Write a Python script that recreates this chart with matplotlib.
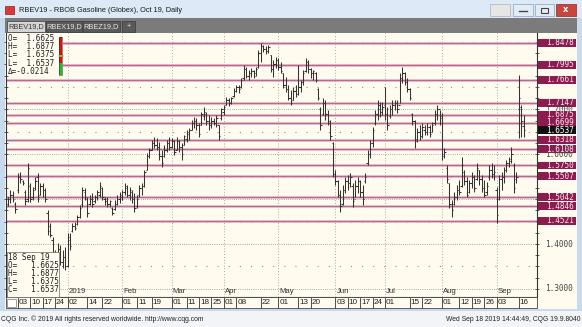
import matplotlib
matplotlib.use("Agg")
import matplotlib.pyplot as plt
import matplotlib.transforms as mtrans
from matplotlib.patches import Rectangle
import numpy as np
import pandas as pd

# trading days on the chart (CQG session calendar)
days = pd.bdate_range("2018-11-27", "2019-09-18")
days = days.drop(pd.to_datetime(["2018-12-25", "2019-01-01", "2019-09-02"]))

# daily OHLC
opens = [1.49, 1.50, 1.51, 1.49, 1.52, 1.55, 1.54, 1.515, 1.50, 1.53,
         1.505, 1.525, 1.55, 1.51, 1.53, 1.52, 1.47, 1.44, 1.41, 1.37,
         1.37, 1.39, 1.36, 1.37, 1.35, 1.41, 1.43, 1.44, 1.445, 1.46,
         1.49, 1.515, 1.50, 1.49, 1.50, 1.495, 1.505, 1.51, 1.525, 1.50,
         1.495, 1.49, 1.48, 1.478, 1.49, 1.50, 1.505, 1.515, 1.525, 1.51,
         1.515, 1.50, 1.485, 1.51, 1.525, 1.53, 1.565, 1.595, 1.61, 1.625,
         1.62, 1.615, 1.595, 1.597, 1.61, 1.625, 1.615, 1.63, 1.61, 1.63,
         1.615, 1.62, 1.635, 1.645, 1.655, 1.67, 1.675, 1.665, 1.665, 1.685,
         1.69, 1.675, 1.665, 1.675, 1.67, 1.665, 1.68, 1.695, 1.71, 1.72,
         1.715, 1.73, 1.74, 1.75, 1.75, 1.77, 1.79, 1.775, 1.78, 1.785,
         1.78, 1.795, 1.825, 1.84, 1.835, 1.83, 1.82, 1.79, 1.80, 1.81,
         1.795, 1.78, 1.755, 1.745, 1.725, 1.72, 1.74, 1.735, 1.75, 1.76,
         1.785, 1.805, 1.79, 1.78, 1.78, 1.745, 1.70, 1.69, 1.715, 1.69,
         1.67, 1.625, 1.555, 1.54, 1.51, 1.49, 1.52, 1.54, 1.535, 1.53,
         1.50, 1.53, 1.54, 1.515, 1.54, 1.58, 1.60, 1.625, 1.67, 1.69,
         1.71, 1.695, 1.71, 1.69, 1.685, 1.70, 1.71, 1.715, 1.71, 1.77,
         1.78, 1.76, 1.745, 1.69, 1.675, 1.635, 1.65, 1.64, 1.655, 1.65,
         1.66, 1.65, 1.67, 1.69, 1.70, 1.685, 1.60, 1.57, 1.535, 1.49,
         1.49, 1.505, 1.52, 1.53, 1.56, 1.54, 1.515, 1.535, 1.55, 1.545,
         1.565, 1.545, 1.525, 1.515, 1.55, 1.565, 1.555, 1.52, 1.50, 1.545,
         1.55, 1.565, 1.58, 1.59, 1.575, 1.545, 1.70, 1.705, 1.6625]
highs = [1.505, 1.520, 1.518, 1.494, 1.558, 1.560, 1.543, 1.520, 1.580, 1.536,
         1.527, 1.549, 1.558, 1.536, 1.536, 1.525, 1.476, 1.447, 1.416, 1.387,
         1.402, 1.398, 1.387, 1.393, 1.424, 1.424, 1.447, 1.449, 1.465, 1.487,
         1.527, 1.525, 1.505, 1.509, 1.514, 1.509, 1.520, 1.538, 1.527, 1.505,
         1.505, 1.498, 1.482, 1.498, 1.509, 1.516, 1.520, 1.536, 1.531, 1.527,
         1.520, 1.514, 1.509, 1.531, 1.536, 1.565, 1.603, 1.614, 1.632, 1.638,
         1.636, 1.627, 1.609, 1.620, 1.632, 1.638, 1.636, 1.632, 1.638, 1.632,
         1.625, 1.643, 1.654, 1.658, 1.676, 1.683, 1.681, 1.669, 1.694, 1.705,
         1.694, 1.687, 1.683, 1.681, 1.687, 1.665, 1.703, 1.710, 1.727, 1.725,
         1.727, 1.747, 1.754, 1.754, 1.770, 1.799, 1.794, 1.788, 1.792, 1.788,
         1.794, 1.832, 1.848, 1.843, 1.841, 1.843, 1.821, 1.810, 1.816, 1.814,
         1.805, 1.781, 1.772, 1.754, 1.743, 1.750, 1.754, 1.799, 1.765, 1.788,
         1.814, 1.810, 1.792, 1.788, 1.783, 1.747, 1.705, 1.725, 1.721, 1.698,
         1.676, 1.627, 1.565, 1.543, 1.520, 1.531, 1.549, 1.554, 1.558, 1.536,
         1.543, 1.549, 1.543, 1.531, 1.558, 1.609, 1.632, 1.661, 1.698, 1.721,
         1.716, 1.716, 1.750, 1.705, 1.710, 1.721, 1.721, 1.721, 1.781, 1.794,
         1.783, 1.770, 1.747, 1.692, 1.676, 1.658, 1.665, 1.669, 1.665, 1.669,
         1.665, 1.672, 1.698, 1.710, 1.698, 1.692, 1.614, 1.576, 1.536, 1.498,
         1.516, 1.531, 1.543, 1.594, 1.565, 1.549, 1.543, 1.560, 1.554, 1.580,
         1.565, 1.554, 1.543, 1.538, 1.576, 1.580, 1.576, 1.527, 1.554, 1.560,
         1.571, 1.587, 1.594, 1.616, 1.580, 1.560, 1.776, 1.710, 1.6877]
lows = [1.485, 1.491, 1.494, 1.469, 1.514, 1.536, 1.531, 1.487, 1.494, 1.494,
        1.498, 1.520, 1.494, 1.509, 1.505, 1.494, 1.420, 1.416, 1.358, 1.347,
        1.364, 1.353, 1.347, 1.342, 1.349, 1.387, 1.427, 1.431, 1.442, 1.458,
        1.482, 1.498, 1.460, 1.487, 1.482, 1.491, 1.498, 1.505, 1.498, 1.487,
        1.482, 1.482, 1.465, 1.476, 1.487, 1.491, 1.498, 1.509, 1.505, 1.498,
        1.491, 1.471, 1.480, 1.505, 1.509, 1.527, 1.565, 1.592, 1.609, 1.614,
        1.609, 1.587, 1.571, 1.594, 1.605, 1.609, 1.614, 1.598, 1.609, 1.605,
        1.587, 1.620, 1.627, 1.632, 1.654, 1.658, 1.654, 1.638, 1.665, 1.676,
        1.665, 1.654, 1.658, 1.665, 1.661, 1.632, 1.676, 1.687, 1.710, 1.707,
        1.712, 1.727, 1.739, 1.736, 1.747, 1.765, 1.770, 1.765, 1.772, 1.770,
        1.774, 1.792, 1.805, 1.828, 1.823, 1.825, 1.783, 1.772, 1.792, 1.788,
        1.781, 1.747, 1.739, 1.721, 1.710, 1.721, 1.727, 1.732, 1.739, 1.754,
        1.783, 1.781, 1.770, 1.765, 1.761, 1.721, 1.654, 1.687, 1.676, 1.665,
        1.632, 1.549, 1.531, 1.505, 1.471, 1.487, 1.514, 1.520, 1.527, 1.482,
        1.505, 1.514, 1.505, 1.487, 1.536, 1.576, 1.592, 1.616, 1.665, 1.676,
        1.683, 1.687, 1.676, 1.654, 1.681, 1.687, 1.698, 1.692, 1.714, 1.759,
        1.754, 1.739, 1.721, 1.665, 1.614, 1.627, 1.632, 1.636, 1.643, 1.643,
        1.638, 1.649, 1.665, 1.676, 1.665, 1.587, 1.592, 1.536, 1.480, 1.460,
        1.487, 1.498, 1.509, 1.527, 1.531, 1.505, 1.514, 1.525, 1.516, 1.543,
        1.531, 1.516, 1.505, 1.509, 1.543, 1.547, 1.543, 1.447, 1.498, 1.520,
        1.536, 1.560, 1.571, 1.580, 1.514, 1.536, 1.636, 1.638, 1.6375]
closes = [1.50, 1.51, 1.50, 1.478, 1.55, 1.545, 1.535, 1.495, 1.57, 1.50,
          1.52, 1.54, 1.505, 1.53, 1.52, 1.50, 1.43, 1.42, 1.37, 1.36,
          1.39, 1.36, 1.37, 1.35, 1.415, 1.395, 1.44, 1.435, 1.46, 1.48,
          1.52, 1.505, 1.47, 1.50, 1.49, 1.505, 1.515, 1.53, 1.505, 1.495,
          1.49, 1.495, 1.47, 1.49, 1.50, 1.51, 1.515, 1.53, 1.51, 1.52,
          1.50, 1.48, 1.50, 1.525, 1.53, 1.56, 1.595, 1.61, 1.625, 1.62,
          1.615, 1.595, 1.58, 1.61, 1.625, 1.615, 1.63, 1.605, 1.63, 1.615,
          1.60, 1.64, 1.65, 1.655, 1.67, 1.675, 1.665, 1.645, 1.69, 1.695,
          1.675, 1.665, 1.675, 1.67, 1.68, 1.64, 1.70, 1.705, 1.72, 1.715,
          1.725, 1.74, 1.75, 1.745, 1.765, 1.79, 1.775, 1.78, 1.785, 1.775,
          1.79, 1.825, 1.84, 1.835, 1.83, 1.838, 1.79, 1.80, 1.81, 1.795,
          1.785, 1.755, 1.745, 1.725, 1.715, 1.74, 1.735, 1.75, 1.76, 1.78,
          1.805, 1.79, 1.78, 1.785, 1.765, 1.725, 1.665, 1.715, 1.69, 1.675,
          1.64, 1.555, 1.54, 1.51, 1.485, 1.52, 1.54, 1.535, 1.55, 1.495,
          1.53, 1.54, 1.515, 1.50, 1.55, 1.60, 1.625, 1.655, 1.69, 1.71,
          1.695, 1.705, 1.69, 1.665, 1.70, 1.71, 1.715, 1.70, 1.77, 1.78,
          1.76, 1.745, 1.725, 1.675, 1.63, 1.65, 1.64, 1.66, 1.65, 1.66,
          1.645, 1.665, 1.69, 1.70, 1.68, 1.595, 1.605, 1.545, 1.49, 1.475,
          1.505, 1.52, 1.515, 1.575, 1.54, 1.51, 1.535, 1.55, 1.525, 1.57,
          1.545, 1.525, 1.51, 1.53, 1.565, 1.555, 1.56, 1.465, 1.545, 1.55,
          1.565, 1.58, 1.585, 1.60, 1.525, 1.55, 1.725, 1.675, 1.6537]

levels = [1.8478, 1.7995, 1.7661, 1.7147, 1.6875, 1.6699, 1.6318, 1.6108,
          1.5750, 1.5507, 1.5042, 1.4846, 1.4521]
last_price = 1.6537
grid_major = [1.3, 1.4, 1.5, 1.6, 1.7, 1.8]
grid_half = [1.35, 1.45, 1.55, 1.65, 1.75, 1.85]
axis_labels = [1.3, 1.4, 1.6, 1.7]   # 1.5 and 1.8 sit fully under level boxes

day_ticks = ["2018-12-03", "2018-12-10", "2018-12-17", "2018-12-24", "2019-01-02",
             "2019-01-14", "2019-01-22", "2019-02-01", "2019-02-11", "2019-02-19",
             "2019-03-01", "2019-03-11", "2019-03-18", "2019-03-25", "2019-04-01",
             "2019-04-08", "2019-04-22", "2019-05-01", "2019-05-13", "2019-05-20",
             "2019-06-03", "2019-06-10", "2019-06-17", "2019-06-24", "2019-07-01",
             "2019-07-15", "2019-07-22", "2019-08-01", "2019-08-12", "2019-08-19",
             "2019-08-26", "2019-09-03", "2019-09-16"]
month_starts = ["2019-01-02", "2019-02-01", "2019-03-01", "2019-04-01", "2019-05-01",
                "2019-06-03", "2019-07-01", "2019-08-01", "2019-09-03"]
month_names = ["2019", "Feb", "Mar", "Apr", "May", "Jun", "Jul", "Aug", "Sep"]

info_top = ["O=  1.6625", "H=  1.6877", "L=  1.6375", "L=  1.6537", "\u0394=-0.0214"]
info_bot = ["18 Sep 19", "O=   1.6625", "H=   1.6877", "L=   1.6375", "C=   1.6537"]

W, H = 582, 327
CREAM = "#fffbef"
MONO = "DejaVu Sans Mono"
SANS = "Liberation Sans"
BOX_H = 0.0175

def pos(d):
    return days.get_loc(pd.Timestamp(d))

fig = plt.figure(figsize=(W / 100, H / 100), dpi=100)

bg = fig.add_axes([0, 0, 1, 1])
bg.set_xlim(0, W)
bg.set_ylim(H, 0)
bg.axis("off")
bg.set_zorder(0)

ax = fig.add_axes([6 / W, (H - 297) / H, 531 / W, 264 / H])
ax.set_zorder(1)

ov = fig.add_axes([0, 0, 1, 1])
ov.set_xlim(0, W)
ov.set_ylim(H, 0)
ov.axis("off")
ov.set_zorder(2)

# ---- window chrome ----
bg.add_patch(Rectangle((0, 0), W, H, fc="#c8daee", ec="none"))
bg.add_patch(Rectangle((0, 0), W, 18, fc="#dde9f6", ec="none"))
bg.add_patch(Rectangle((5, 6), 9, 8, fc="#d83a3a", ec="#902020", lw=0.5))
bg.text(19, 10, "RBEV19 - RBOB Gasoline (Globex), Oct 19, Daily", fontsize=5.3,
        family=SANS, color="#1a1a1a", va="center")
bg.add_patch(Rectangle((490, 4), 20, 12, fc="#e6e6e6", ec="#b0b0b0", lw=0.5))
bg.add_patch(Rectangle((513, 4), 20, 12, fc="#e2ecf7", ec="#8aa0bb", lw=0.5))
bg.add_patch(Rectangle((535, 4), 19, 12, fc="#e2ecf7", ec="#8aa0bb", lw=0.5))
bg.add_patch(Rectangle((556, 4), 20, 12, fc="#c9463d", ec="#8a2a22", lw=0.5))
bg.plot([519, 527], [11, 11], color="#444", lw=1)
bg.add_patch(Rectangle((541, 7.5), 7, 5, fc="none", ec="#444", lw=0.8))
bg.text(566, 10, "x", fontsize=6, color="white", ha="center", va="center", weight="bold")

bg.add_patch(Rectangle((5, 18), 572, 15, fc="#7b7b7b", ec="none"))
tabs = [("RBEV19,D", 7, 38), ("RBEX19,D", 46, 36), ("RBEZ19,D", 83, 37), ("+", 122, 13)]
for k, (name, x0, w) in enumerate(tabs):
    active = k == 0
    bg.add_patch(Rectangle((x0, 21), w, 11, fc="#d4d4d4" if active else "#595959",
                           ec="#3c3c3c", lw=0.5))
    bg.text(x0 + w / 2, 26.8, name, fontsize=5.3, family=SANS, ha="center", va="center",
            color="#3a3a3a" if active else "#e4e4e4")

bg.add_patch(Rectangle((5, 33), 572, 276, fc=CREAM, ec="none"))
bg.add_patch(Rectangle((0, 311), W, 16, fc="#f2f4f7", ec="none"))
bg.text(1, 319.5, "CQG Inc. \u00a9 2019 All rights reserved worldwide. http://www.cqg.com",
        fontsize=4.9, family=SANS, color="#222", va="center")
bg.text(581, 319.5, "Wed Sep 18 2019 14:44:49, CQG 19.9.8040", fontsize=4.9,
        family=SANS, color="#222", va="center", ha="right")

# ---- price panel ----
x = np.arange(len(days))
ax.set_facecolor(CREAM)
ax.set_xlim(-0.8, 213.3)
ax.set_ylim(1.282, 1.870)

for p in grid_major:
    ax.axhline(p, color="#8c8c8c", lw=0.6, ls=(0, (1, 1.6)), zorder=1)
for p in grid_half:
    ax.axhline(p, color="#8c8c8c", lw=0.8, ls=(0, (1, 9)), zorder=1)
for d in month_starts:
    ax.axvline(pos(d), color="#8c8c8c", lw=0.6, ls=(0, (1, 2.4)), zorder=1)

for p in levels:
    ax.axhline(p, color="#dfb0c3", lw=1.9, zorder=2)
    ax.axhline(p, color="#b45a82", lw=0.6, zorder=2)

ax.vlines(x, lows, highs, color="#333333", lw=0.75, zorder=3)
ax.hlines(opens, x - 0.55, x, color="#333333", lw=0.75, zorder=3)
ax.hlines(closes, x, x + 0.55, color="#333333", lw=0.75, zorder=3)

ax.set_xticks([])
ax.set_yticks(np.arange(1.3, 1.87, 0.025))
ax.yaxis.set_ticks_position("both")
ax.tick_params(axis="y", direction="inout", length=2.5, width=0.6, colors="#444",
               labelleft=False, labelright=False)
for s in ax.spines.values():
    s.set_color("#333")
    s.set_linewidth(0.8)
ax.spines["top"].set_visible(False)

tx_date = mtrans.blended_transform_factory(ax.transData, ov.transData)
tx_price = mtrans.blended_transform_factory(ov.transData, ax.transData)

# month names inside the panel
for d, name in zip(month_starts, month_names):
    ov.text(pos(d), 291.5, name, transform=mtrans.offset_copy(tx_date, fig, x=1, units="dots"),
            fontsize=5.6, family=SANS, color="#333", va="center")

# date row
ov.add_patch(Rectangle((6, 297), 531, 11, fc=CREAM, ec="#444", lw=0.6))
ov.add_patch(Rectangle((7, 298.5), 9, 8.5, fc="white", ec="#777", lw=0.5))
for d in day_ticks:
    i = pos(d)
    ov.plot([i, i], [297.5, 307.5], color="#333", lw=0.6, transform=tx_date, clip_on=False)
    ov.text(i, 302.6, pd.Timestamp(d).strftime("%d"),
            transform=mtrans.offset_copy(tx_date, fig, x=1.0, units="dots"),
            fontsize=5.9, family=SANS, color="#222", va="center")

# price axis labels and level boxes
for p in axis_labels:
    ov.text(573, p, "%.4f" % p, transform=tx_price, fontsize=5.6, family=MONO,
            color="#444", ha="right", va="center")
for p in levels:
    ov.add_patch(Rectangle((538, p - BOX_H / 2), 38, BOX_H, transform=tx_price,
                           fc="#8c1c50", ec="none"))
    ov.text(574, p, "%.4f" % p, transform=tx_price, fontsize=5.6, family=MONO,
            color="#f4e8ee", ha="right", va="center")
ov.add_patch(Rectangle((538, last_price - BOX_H / 2), 38, BOX_H, transform=tx_price,
                       fc="#111", ec="none"))
ov.text(574, last_price, "%.4f" % last_price, transform=tx_price, fontsize=5.6, family=MONO,
        color="white", ha="right", va="center")

# top-left quote box
ov.add_patch(Rectangle((6.5, 33.5), 56, 42, fc=CREAM, ec="none"))
for k, t in enumerate(info_top):
    ov.text(8, 38.5 + 8.2 * k, t, fontsize=5.5, family=MONO, color="#222", va="center")
ov.add_patch(Rectangle((59, 37), 3, 26, fc="#e01010", ec="none"))
ov.add_patch(Rectangle((59, 63), 3, 12, fc="#22c022", ec="none"))
ov.add_patch(Rectangle((59, 37), 3, 38, fc="none", ec="#333", lw=0.4))
ov.add_patch(Rectangle((58.5, 54.5), 4, 2.5, fc="#e8d020", ec="#333", lw=0.3))

# bottom-left quote box
ov.add_patch(Rectangle((6.5, 252), 52.5, 44.5, fc=CREAM, ec="#666", lw=0.5))
for k, t in enumerate(info_bot):
    ov.text(8, 257 + 8 * k, t, fontsize=5.5, family=MONO, color="#222", va="center")

for a in (bg, ax, ov):
    for t in a.texts:
        t.set_clip_on(False)

fig.savefig("out.png", dpi=100)
